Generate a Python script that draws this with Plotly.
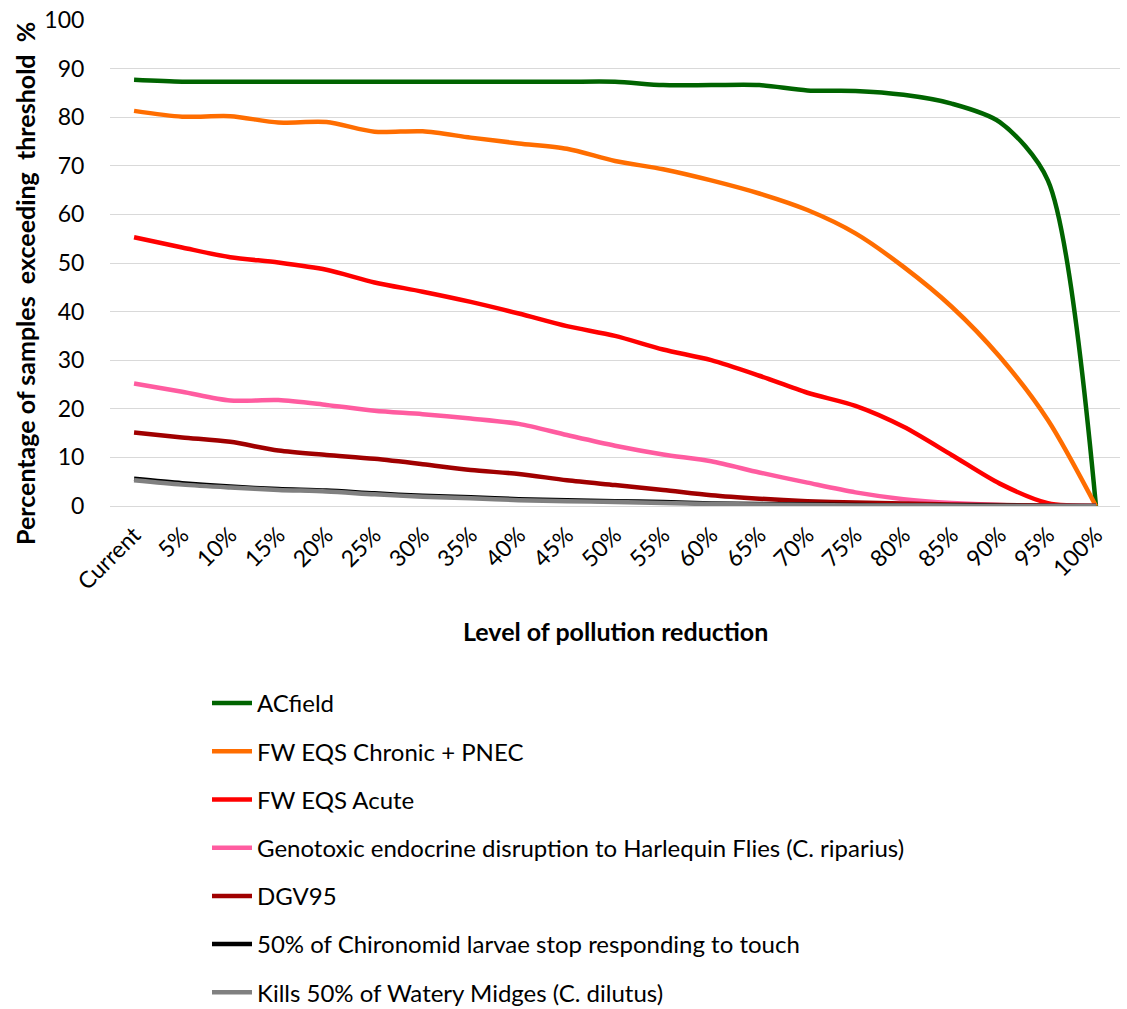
import plotly.graph_objects as go

# Reduction levels on the category axis
categories = ["Current", "5%", "10%", "15%", "20%", "25%", "30%", "35%", "40%", "45%",
              "50%", "55%", "60%", "65%", "70%", "75%", "80%", "85%", "90%", "95%", "100%"]

# Percentage of samples exceeding each threshold
acfield = [87.7, 87.3, 87.3, 87.3, 87.3, 87.3, 87.3, 87.3, 87.3, 87.3,
           87.3, 86.6, 86.6, 86.6, 85.5, 85.4, 84.6, 82.8, 79.0, 67.0, 0.0]
fw_chronic = [81.3, 80.1, 80.2, 78.9, 79.0, 77.0, 77.1, 75.8, 74.6, 73.5,
              71.0, 69.3, 67.0, 64.3, 60.9, 56.1, 49.2, 41.0, 30.7, 17.7, 0.0]
fw_acute = [55.3, 53.2, 51.2, 50.1, 48.6, 46.0, 44.1, 42.0, 39.6, 37.0,
            35.0, 32.2, 30.0, 26.8, 23.3, 20.6, 16.3, 10.5, 4.6, 0.6, 0.0]
genotoxic = [25.2, 23.5, 21.7, 21.8, 20.8, 19.6, 18.9, 18.0, 16.9, 14.6,
             12.4, 10.6, 9.2, 6.9, 4.8, 2.8, 1.4, 0.6, 0.2, 0.1, 0.0]
dgv95 = [15.1, 14.1, 13.2, 11.4, 10.5, 9.7, 8.6, 7.4, 6.6, 5.3,
         4.3, 3.3, 2.2, 1.5, 1.0, 0.7, 0.5, 0.3, 0.2, 0.1, 0.0]
chironomid_touch = [5.6, 4.7, 4.0, 3.5, 3.2, 2.6, 2.1, 1.8, 1.4, 1.2,
                    1.0, 0.8, 0.5, 0.4, 0.3, 0.2, 0.1, 0.1, 0.05, 0.0, 0.0]
watery_midges = [5.3, 4.4, 3.8, 3.3, 3.0, 2.4, 1.9, 1.6, 1.2, 1.0,
                 0.8, 0.6, 0.4, 0.3, 0.2, 0.1, 0.1, 0.05, 0.0, 0.0, 0.0]

y_ticks = [0, 10, 20, 30, 40, 50, 60, 70, 80, 90, 100]

series = [
    ("ACfield", acfield, "#006400"),
    ("FW EQS Chronic + PNEC", fw_chronic, "#FF6D00"),
    ("FW EQS Acute", fw_acute, "#FF0000"),
    ("Genotoxic endocrine disruption to Harlequin Flies (C. riparius)", genotoxic, "#FF5CA0"),
    ("DGV95", dgv95, "#A00000"),
    ("50% of Chironomid larvae stop responding to touch", chironomid_touch, "#000000"),
    ("Kills 50% of Watery Midges (C. dilutus)", watery_midges, "#808080"),
]

FONT = "Lato, 'Open Sans', sans-serif"
W, H = 1127, 1009
M_LEFT, M_RIGHT, M_TOP, M_BOTTOM = 110, 7, 20, 503
plot_w = W - M_LEFT - M_RIGHT
plot_h = H - M_TOP - M_BOTTOM

fig = go.Figure()
for i, (name, values, color) in enumerate(series):
    fig.add_trace(go.Scatter(
        x=list(range(len(categories))),
        y=values,
        name=name,
        mode="lines",
        line=dict(color=color, width=4.5, shape="spline", smoothing=0.8),
        legendgroup=f"g{i}",
        hoverinfo="x+y+name",
    ))

fig.update_layout(
    width=W,
    height=H,
    margin=dict(l=M_LEFT, r=M_RIGHT, t=M_TOP, b=M_BOTTOM, autoexpand=False),
    paper_bgcolor="white",
    plot_bgcolor="white",
    font=dict(family=FONT, size=23, color="#000000"),
    showlegend=True,
    legend=dict(
        x=(207 - M_LEFT) / plot_w, y=1 - 681 / H, xref="paper", yref="container",
        xanchor="left", yanchor="top",
        orientation="v",
        font=dict(family=FONT, size=24, color="#000000"),
        tracegroupgap=14,
        itemwidth=40,
        bgcolor="rgba(0,0,0,0)",
    ),
    xaxis=dict(
        tickmode="array",
        tickvals=list(range(len(categories))),
        ticktext=categories,
        range=[-0.5, len(categories) - 0.5],
        tickangle=-45,
        showgrid=False,
        zeroline=False,
        showline=False,
        ticks="",
        ticklabelstandoff=10,
        tickfont=dict(family=FONT, size=23),
    ),
    yaxis=dict(
        range=[0, 100],
        tickmode="array",
        tickvals=y_ticks,
        showgrid=True,
        gridcolor="#D9D9D9",
        gridwidth=1.3,
        zeroline=True,
        zerolinecolor="#D9D9D9",
        zerolinewidth=1.3,
        showline=False,
        # transparent ticks keep the labels clear of the plot edge
        ticks="outside",
        ticklen=20,
        tickcolor="rgba(0,0,0,0)",
        tickfont=dict(family=FONT, size=23),
    ),
    annotations=[
        dict(
            text="<b>Level of pollution reduction</b>",
            x=0.5, xref="paper", xanchor="center",
            y=(506 - 631) / plot_h, yref="paper", yanchor="middle",
            showarrow=False,
            font=dict(family=FONT, size=25),
        ),
        dict(
            text="<b>Percentage of samples\u00a0 exceeding\u00a0 threshold\u00a0 %</b>",
            x=(25 - M_LEFT) / plot_w, xref="paper", xanchor="center",
            y=(506 - 284) / plot_h, yref="paper", yanchor="middle",
            textangle=-90,
            showarrow=False,
            font=dict(family=FONT, size=25),
        ),
    ],
)

fig.write_html("out.html")
